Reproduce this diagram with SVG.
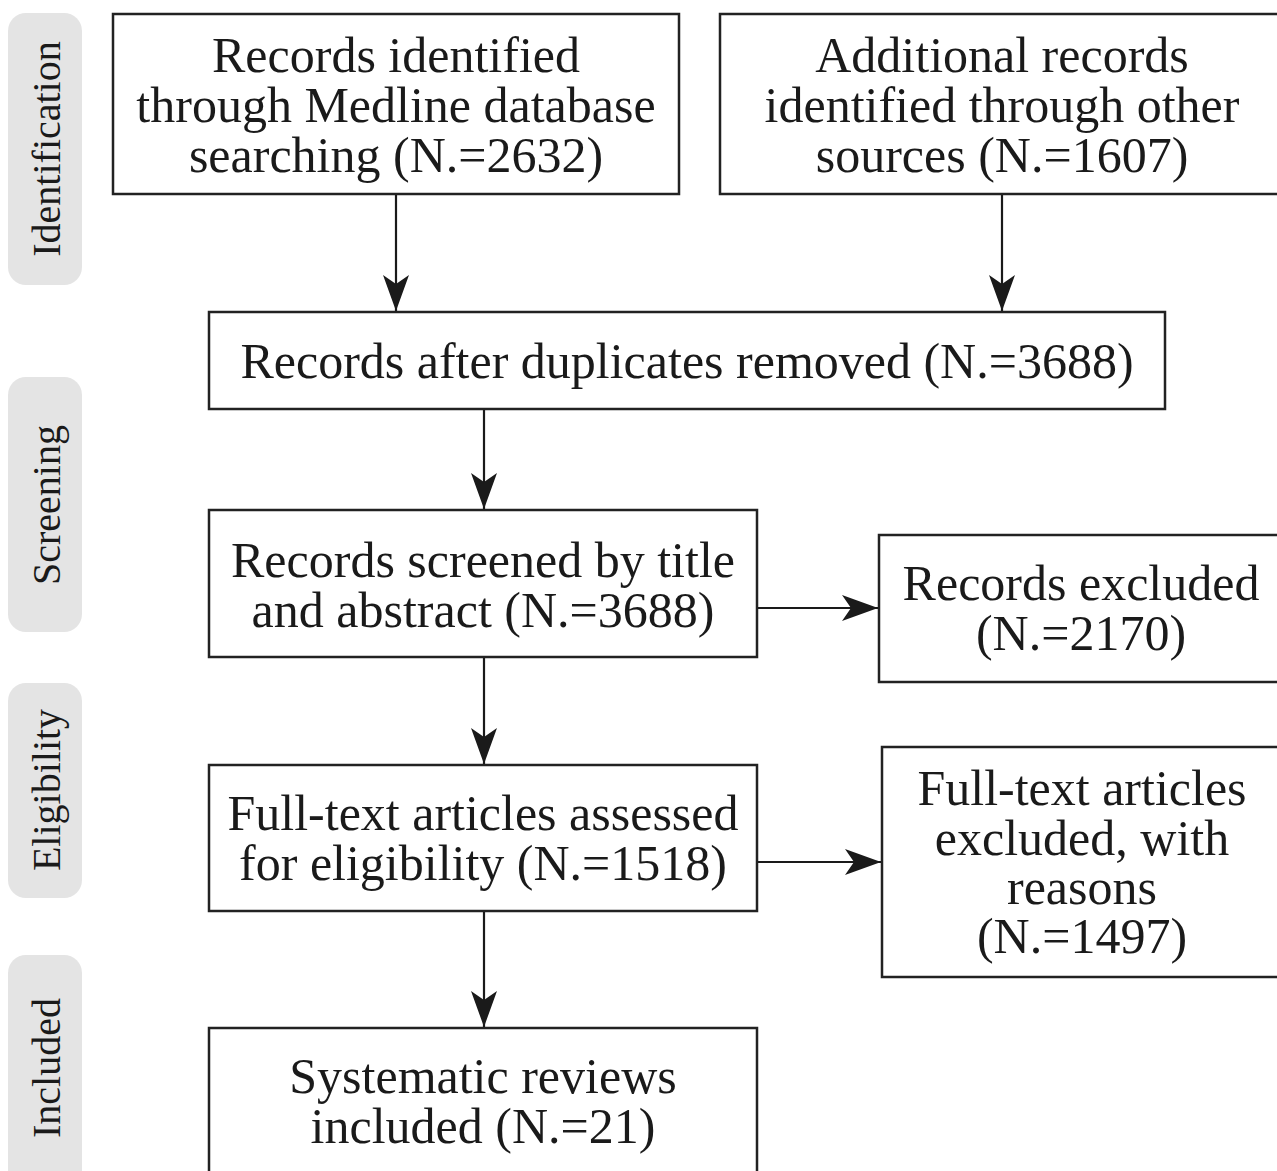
<svg xmlns="http://www.w3.org/2000/svg" width="1277" height="1171" viewBox="0 0 1277 1171">
<style>
.box{fill:#fff;stroke:#222;stroke-width:2.5}
.pill{fill:#e4e4e4;stroke:none}
.t{font-family:"Liberation Serif","Times New Roman",serif;font-size:50px;fill:#1a1a1a;text-anchor:middle}
.p{font-family:"Liberation Serif","Times New Roman",serif;font-size:40px;fill:#1a1a1a;text-anchor:middle}
.c{stroke:#1a1a1a;stroke-width:2.2;fill:none;marker-end:url(#ah)}
</style>
<defs>
<marker id="ah" markerUnits="userSpaceOnUse" markerWidth="40" markerHeight="30" refX="36" refY="13" orient="auto">
<path d="M0,0 L36,13 L0,26 L9,13 Z" fill="#1a1a1a"/>
</marker>
</defs>
<rect width="1277" height="1171" fill="#fff"/>
<g id="phase-identification"><rect class="pill" x="8" y="13" width="74" height="272" rx="18"/><text class="p" transform="translate(60,149) rotate(-90)">Identification</text></g>
<g id="phase-screening"><rect class="pill" x="8" y="377" width="74" height="255" rx="18"/><text class="p" transform="translate(60,505) rotate(-90)">Screening</text></g>
<g id="phase-eligibility"><rect class="pill" x="8" y="683" width="74" height="215" rx="18"/><text class="p" transform="translate(60,790) rotate(-90)">Eligibility</text></g>
<g id="phase-included"><rect class="pill" x="8" y="955" width="74" height="240" rx="18"/><text class="p" transform="translate(60,1068) rotate(-90)">Included</text></g>
<g id="connectors">
<line class="c" x1="396" y1="194" x2="396" y2="311"/>
<line class="c" x1="1002" y1="194" x2="1002" y2="311"/>
<line class="c" x1="484" y1="409" x2="484" y2="509"/>
<line class="c" x1="757" y1="608" x2="878" y2="608"/>
<line class="c" x1="484" y1="657" x2="484" y2="764"/>
<line class="c" x1="757" y1="862" x2="881" y2="862"/>
<line class="c" x1="484" y1="911" x2="484" y2="1027"/>
</g>
<g id="n1"><rect class="box" x="113" y="14" width="566" height="180"/><text class="t" x="396" y="72">Records identified</text><text class="t" x="396" y="122">through Medline database</text><text class="t" x="396" y="172">searching (N.=2632)</text></g>
<g id="n2"><rect class="box" x="720" y="14" width="580" height="180"/><text class="t" x="1002" y="72">Additional records</text><text class="t" x="1002" y="122">identified through other</text><text class="t" x="1002" y="172">sources (N.=1607)</text></g>
<g id="n3"><rect class="box" x="209" y="312" width="956" height="97"/><text class="t" x="687" y="378">Records after duplicates removed (N.=3688)</text></g>
<g id="n4"><rect class="box" x="209" y="510" width="548" height="147"/><text class="t" x="483" y="577">Records screened by title</text><text class="t" x="483" y="627">and abstract (N.=3688)</text></g>
<g id="n5"><rect class="box" x="879" y="535" width="420" height="147"/><text class="t" x="1081" y="600">Records excluded</text><text class="t" x="1081" y="650">(N.=2170)</text></g>
<g id="n6"><rect class="box" x="209" y="765" width="548" height="146"/><text class="t" x="483" y="830">Full-text articles assessed</text><text class="t" x="483" y="880">for eligibility (N.=1518)</text></g>
<g id="n7"><rect class="box" x="882" y="747" width="420" height="230"/><text class="t" x="1082" y="805">Full-text articles</text><text class="t" x="1082" y="855">excluded, with</text><text class="t" x="1082" y="904">reasons</text><text class="t" x="1082" y="953">(N.=1497)</text></g>
<g id="n8"><rect class="box" x="209" y="1028" width="548" height="170"/><text class="t" x="483" y="1093">Systematic reviews</text><text class="t" x="483" y="1143">included (N.=21)</text></g>
</svg>
